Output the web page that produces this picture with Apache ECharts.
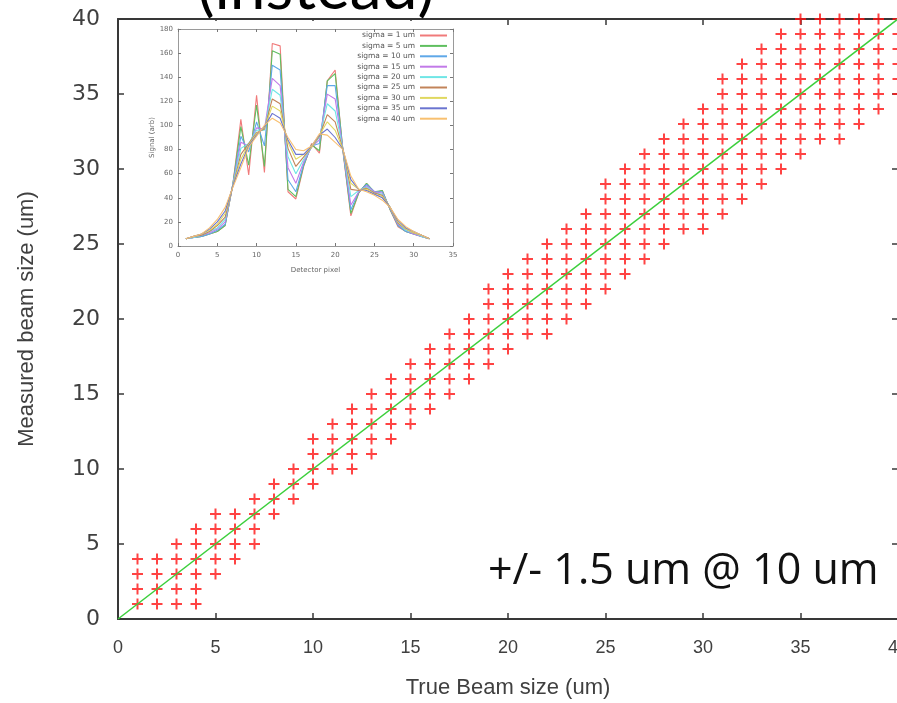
<!DOCTYPE html>
<html>
<head>
<meta charset="utf-8">
<script src="https://cdn.jsdelivr.net/npm/echarts@6/dist/echarts.min.js"></script>
<style>
html,body{margin:0;padding:0;background:#fff;}
#chart{width:897px;height:703px;}
</style>
</head>
<body>
<div id="chart"></div>
<script>
// ---- main plot data: true beam size vs measured beam sizes (um) ----
const trueSize = [1,2,3,4,5,6,7,8,9,10,11,12,13,14,15,16,17,18,19,20,21,22,23,24,25,26,27,28,29,30,31,32,33,34,35,36,37,38,39,40];
const measured = [
  [1,2,3,4],[1,2,3,4],[1,2,3,4,5],[1,2,3,4,5,6],[3,4,5,6,7],
  [4,5,6,7],[5,6,7,8],[7,8,9],[8,9,10],[9,10,11,12],
  [10,11,12,13],[10,11,12,13,14],[11,12,13,14,15],[12,13,14,15,16],[13,14,15,16,17],
  [14,15,16,17,18],[15,16,17,18,19],[16,17,18,19,20],[17,18,19,20,21,22],[18,19,20,21,22,23],
  [19,20,21,22,23,24],[19,20,21,22,23,24,25],[20,21,22,23,24,25,26],[21,22,23,24,25,26,27],[22,23,24,25,26,27,28,29],
  [23,24,25,26,27,28,29,30],[24,25,26,27,28,29,30,31],[25,26,27,28,29,30,31,32],[26,27,28,29,30,31,32,33],[26,27,28,29,30,31,32,33,34],
  [27,28,29,30,31,32,33,34,35,36],[28,29,30,31,32,33,34,35,36,37],[29,30,31,32,33,34,35,36,37,38],[30,31,32,33,34,35,36,37,38,39],[31,32,33,34,35,36,37,38,39,40],
  [32,33,34,35,36,37,38,39,40],[32,33,34,35,36,37,38,39,40],[33,34,35,36,37,38,39,40],[34,35,36,37,38,39,40],[35,36,37,38,39,40]
];
const idealX = [0, 40];
const idealY = [0, 40];
const mainTicks = [0,5,10,15,20,25,30,35,40];

// ---- inset data: signal vs detector pixel for several beam sigmas ----
const pixels = [1,2,3,4,5,6,7,8,9,10,11,12,13,14,15,16,17,18,19,20,21,22,23,24,25,26,27,28,29,30,31,32];
const sigmaNames = ['sigma = 1 um','sigma = 5 um','sigma = 10 um','sigma = 15 um','sigma = 20 um','sigma = 25 um','sigma = 30 um','sigma = 35 um','sigma = 40 um'];
const sig1  = [6,7,8,10,12,17,52,105,59,125,61,168,166,45,39,66,85,77,137,146,78,25,44,52,44,46,30,16,12,10,8,6];
const sig5  = [6,7,8,10,12,17,52,99,67,117,66,162,159,47,41,67,84,79,137,143,79,27,44,52,45,46,30,17,12,10,8,6];
const sig10 = [6,7,8,10,13,18,52,91,78,103,83,150,146,55,45,68,83,85,133,133,79,30,45,51,45,45,31,17,12,10,8,6];
const sig15 = [6,7,9,11,14,20,51,86,83,98,97,139,133,65,52,70,82,88,126,122,80,34,45,50,45,44,31,18,13,10,8,6];
const sig20 = [6,7,9,12,15,22,51,81,85,96,96,130,125,74,60,72,82,90,118,112,80,41,46,49,44,43,32,19,13,11,8,6];
const sig25 = [6,8,9,12,17,24,50,76,85,94,97,122,118,81,66,74,82,91,109,103,80,47,46,48,44,42,32,19,14,11,9,6];
const sig30 = [6,8,10,13,18,27,50,72,84,93,98,116,112,86,72,76,82,92,103,96,80,52,47,47,43,41,32,20,14,11,9,6];
const sig35 = [6,8,10,14,20,29,50,68,83,92,99,110,106,88,76,76,83,92,97,90,80,55,47,46,43,40,32,21,15,12,9,6];
const sig40 = [6,8,10,15,22,32,49,65,82,91,100,106,102,90,80,79,83,93,92,86,80,58,47,45,42,38,32,22,16,12,9,6];
const sigmaSeries = [sig1, sig5, sig10, sig15, sig20, sig25, sig30, sig35, sig40];
const sigmaColors = ['#f07a7a','#5fbf5f','#5fa8e8','#c27ae8','#6fe6e6','#c2845a','#e0d860','#6a74d0','#f8c070'];
const insetXTicks = [0,5,10,15,20,25,30,35];
const insetYTicks = [0,20,40,60,80,100,120,140,160,180];

// build scatter points from the read values
const scatterData = [];
trueSize.forEach((t, i) => measured[i].forEach(m => scatterData.push([t, m])));
const idealData = idealX.map((x, i) => [x, idealY[i]]);

const plusPath = 'path://M4.5,0h2v4.5h4.5v2h-4.5v4.5h-2v-4.5h-4.5v-2h4.5z';
const axisDark = '#383838';
const insetGray = '#9a9a9a';

function mainX(pos, showLabel) {
  return {
    type: 'value', gridIndex: 0, position: pos, min: mainTicks[0], max: mainTicks[mainTicks.length-1], interval: mainTicks[1]-mainTicks[0],
    axisLine: {show: true, onZero: false, lineStyle: {color: axisDark, width: 2}},
    axisTick: {show: true, inside: true, length: 6, lineStyle: {color: axisDark, width: 1.5}},
    axisLabel: {show: showLabel, margin: 20, fontSize: 18, color: '#404040', fontFamily: 'Liberation Sans', showMinLabel: true, showMaxLabel: true},
    splitLine: {show: false}
  };
}
function mainY(pos, showLabel) {
  return {
    type: 'value', gridIndex: 0, position: pos, min: mainTicks[0], max: mainTicks[mainTicks.length-1], interval: mainTicks[1]-mainTicks[0],
    axisLine: {show: true, onZero: false, lineStyle: {color: axisDark, width: 2}},
    axisTick: {show: true, inside: true, length: 6, lineStyle: {color: axisDark, width: 1.5}},
    axisLabel: {show: showLabel, margin: 18, fontSize: 22, color: '#404040', fontFamily: 'DejaVu Sans', showMinLabel: true, showMaxLabel: true},
    splitLine: {show: false}
  };
}
function insetX(pos, showLabel) {
  return {
    type: 'value', gridIndex: 1, position: pos, min: insetXTicks[0], max: insetXTicks[insetXTicks.length-1], interval: insetXTicks[1]-insetXTicks[0], z: 5,
    axisLine: {show: true, onZero: false, lineStyle: {color: insetGray, width: 1}},
    axisTick: {show: true, inside: true, length: 3, lineStyle: {color: '#777', width: 1}},
    axisLabel: {show: showLabel, margin: 6, fontSize: 7, color: '#666', fontFamily: 'DejaVu Sans'},
    splitLine: {show: false}
  };
}
function insetY(pos, showLabel) {
  return {
    type: 'value', gridIndex: 1, position: pos, min: insetYTicks[0], max: insetYTicks[insetYTicks.length-1], interval: insetYTicks[1]-insetYTicks[0], z: 5,
    axisLine: {show: true, onZero: false, lineStyle: {color: insetGray, width: 1}},
    axisTick: {show: true, inside: true, length: 3, lineStyle: {color: '#777', width: 1}},
    axisLabel: {show: showLabel, margin: 5, fontSize: 7, color: '#666', fontFamily: 'DejaVu Sans'},
    splitLine: {show: false}
  };
}

const xAxes = [
  Object.assign(mainX('bottom', true), {name: 'True Beam size (um)', nameLocation: 'middle', nameGap: 58, nameTextStyle: {fontSize: 22, color: '#404040', fontFamily: 'Liberation Sans'}}),
  mainX('top', false),
  Object.assign(insetX('bottom', true), {name: 'Detector pixel', nameLocation: 'middle', nameGap: 21, nameTextStyle: {fontSize: 7, color: '#666', fontFamily: 'DejaVu Sans'}}),
  insetX('top', false)
];
const yAxes = [
  Object.assign(mainY('left', true), {name: 'Measured beam size (um)', nameLocation: 'middle', nameGap: 80, nameRotate: 90, nameTextStyle: {fontSize: 22, color: '#404040', fontFamily: 'Liberation Sans'}}),
  mainY('right', false),
  Object.assign(insetY('left', true), {name: 'Signal (arb)', nameLocation: 'middle', nameGap: 18, nameRotate: 90, nameTextStyle: {fontSize: 7, color: '#666', fontFamily: 'DejaVu Sans'}}),
  insetY('right', false)
];

const series = [
  {type: 'scatter', xAxisIndex: 0, yAxisIndex: 0, data: scatterData, symbol: plusPath, symbolSize: 11,
   itemStyle: {color: '#ff1414'}, z: 2, silent: true, clip: false},
  {type: 'line', xAxisIndex: 0, yAxisIndex: 0, data: idealData, showSymbol: false, symbol: 'none',
   lineStyle: {color: '#3ccf3c', width: 1.5}, z: 3, silent: true}
];
sigmaSeries.forEach((vals, k) => {
  series.push({
    type: 'line', name: sigmaNames[k], xAxisIndex: 2, yAxisIndex: 2,
    data: pixels.map((p, i) => [p, vals[i]]),
    showSymbol: false, symbol: 'none', lineStyle: {color: sigmaColors[k], width: 1.1}, itemStyle: {color: sigmaColors[k]},
    z: 6, silent: true, animation: false
  });
});

const chart = echarts.init(document.getElementById('chart'), null, {renderer: 'canvas'});
chart.setOption({
  animation: false,
  backgroundColor: '#ffffff',
  grid: [
    {left: 118, top: 19, width: 780, height: 600, outerBoundsMode: 'none', containLabel: false},
    {left: 178, top: 29, width: 275, height: 217, outerBoundsMode: 'none', containLabel: false}
  ],
  xAxis: xAxes,
  yAxis: yAxes,
  legend: {
    data: sigmaNames, orient: 'vertical', right: 450, top: 31, align: 'right',
    icon: 'rect', itemWidth: 27, itemHeight: 2, itemGap: 1.4, padding: 0, z: 8,
    textStyle: {fontSize: 7.5, color: '#555', fontFamily: 'DejaVu Sans', lineHeight: 9},
    selectedMode: false
  },
  graphic: [
    {type: 'rect', z: 1, shape: {x: 158, y: 21, width: 306, height: 262}, style: {fill: '#ffffff'}, silent: true},
    {type: 'text', z: 10, x: 316, y: -12, style: {text: '(instead)', fontSize: 64, fontFamily: 'Lato', fill: '#000', align: 'center', verticalAlign: 'middle'}},
    {type: 'text', z: 10, x: 488, y: 572, style: {text: '+/- 1.5 um @ 10 um', fontSize: 43, fontFamily: 'Open Sans', fill: '#111', align: 'left', verticalAlign: 'middle'}}
  ],
  series: series
});
</script>
</body>
</html>
